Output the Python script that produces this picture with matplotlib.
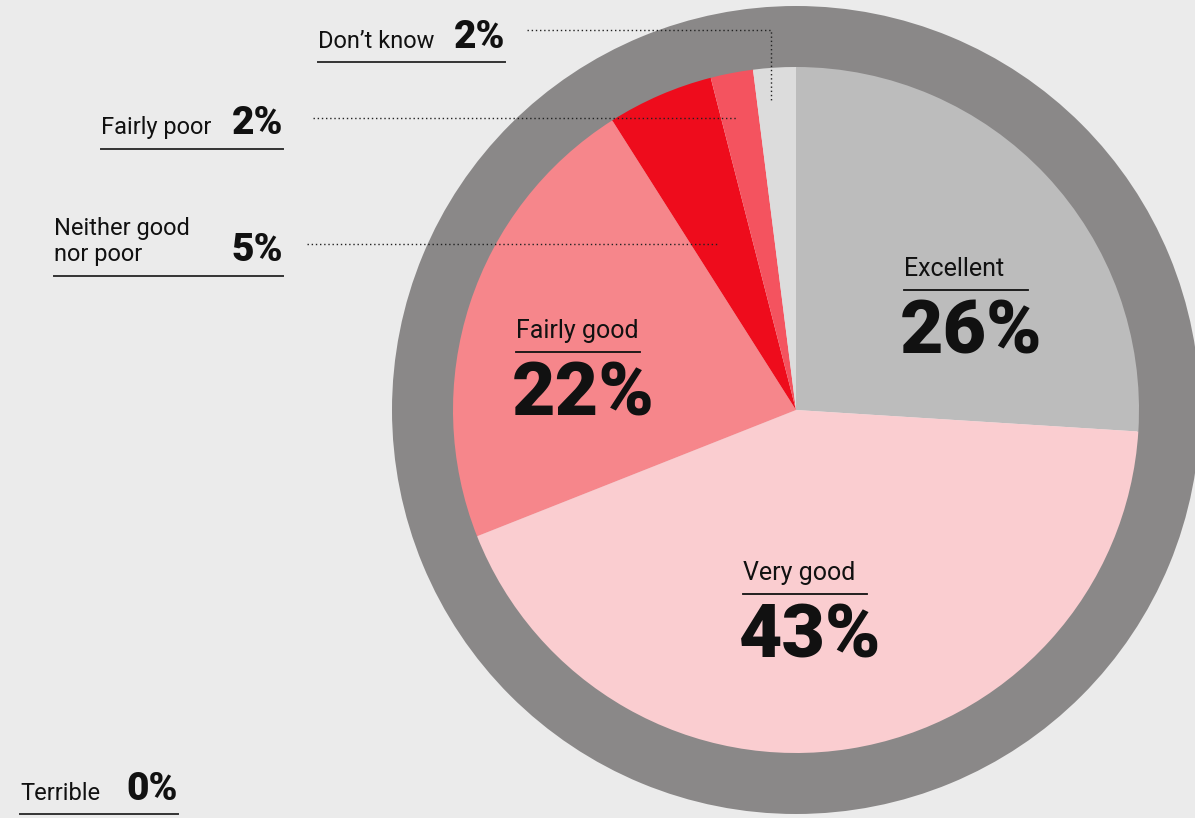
import matplotlib.pyplot as plt

# survey shares, clockwise from 12 o'clock
categories = ['Excellent', 'Very good', 'Fairly good', 'Neither good\nnor poor', 'Fairly poor', "Don\u2019t know"]
shares = [26, 43, 22, 5, 2, 2]
colors = ['#bcbcbc', '#facdd0', '#f6868b', '#ee0c1c', '#f4535f', '#dcdcdc']
terrible_share = 0

W, H = 1195, 818
BG = '#ebebeb'
INK = '#111111'
LABEL_FONT = ['Roboto', 'DejaVu Sans']
NUM_FONT = ['Roboto', 'DejaVu Sans']

fig = plt.figure(figsize=(W / 100, H / 100), dpi=100, facecolor=BG)
ax = fig.add_axes([0, 0, 1, 1])
ax.set_facecolor(BG)


def y(v):
    # work in top-down pixel units
    return H - v


cx, cy = 796, y(410)
r_pie = 343

# grey outer ring
ax.pie([1], radius=404, center=(cx, cy), colors=['#8a8888'],
       wedgeprops=dict(width=62, linewidth=0), frame=True)
ax.pie(shares, radius=r_pie, center=(cx, cy), colors=colors, startangle=90,
       counterclock=False, wedgeprops=dict(linewidth=0), frame=True)
ax.set_xlim(0, W)
ax.set_ylim(0, H)
ax.set_aspect('equal')
ax.axis('off')


def inner_label(x0, ty, name, value, ulen):
    ax.text(x0, y(ty), name, fontsize=18, family=LABEL_FONT, color=INK,
            ha='left', va='baseline')
    ax.plot([x0, x0 + ulen], [y(ty + 14)] * 2, color=INK, lw=1.3)
    ax.text(x0 - 4, y(ty + 78), f'{value}%', fontsize=54, family=NUM_FONT,
            weight='black', color=INK, ha='left', va='baseline')


inner_label(904, 276, categories[0], shares[0], 124)
inner_label(743, 580, categories[1], shares[1], 124)
inner_label(516, 338, categories[2], shares[2], 124)


def side_label(x0, x1, ty, name, value, uy):
    ax.text(x0, y(ty), name, fontsize=17, family=LABEL_FONT, color=INK,
            ha='left', va='baseline', linespacing=1.15)
    ax.text(x1, y(ty), f'{value}%', fontsize=28, family=NUM_FONT,
            weight='black', color=INK, ha='right', va='baseline')
    ax.plot([x0, x1], [y(uy)] * 2, color='#333333', lw=1.4)


side_label(318, 505, 48, categories[5], shares[5], 62)
side_label(101, 283, 134, categories[4], shares[4], 149)
side_label(54, 283, 261, categories[3], shares[3], 276)
side_label(20, 178, 800, 'Terrible', terrible_share, 814)

# dotted leaders into the thin slices
dot = dict(color='#222222', lw=1, ls=(0, (1, 2)))
ax.plot([527, 771, 771], [y(30), y(30), y(101)], **dot)
ax.plot([313, 738], [y(118), y(118)], **dot)
ax.plot([307, 718], [y(244), y(244)], **dot)

fig.savefig('out.png', dpi=100, facecolor=BG)
